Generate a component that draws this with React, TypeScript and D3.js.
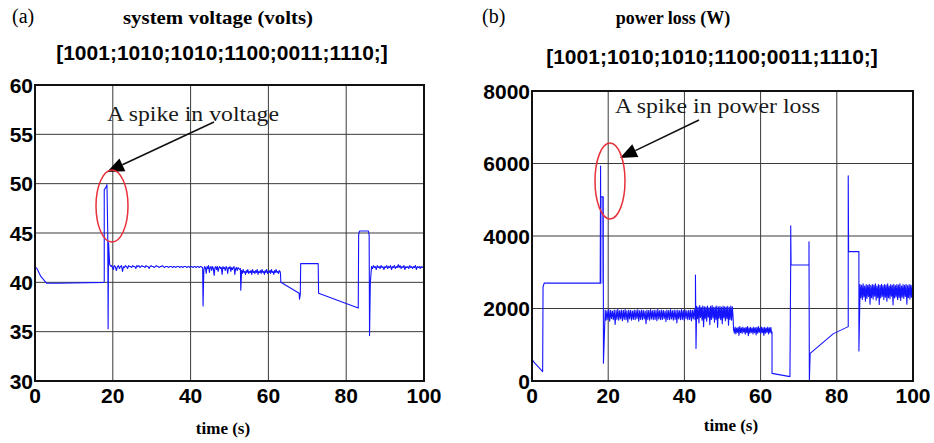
import React from "react";
import * as d3 from "d3";

type Pt = [number, number];

// shared axis stuff
const timeTicks = [0, 20, 40, 60, 80, 100];
const voltTicks = [30, 35, 40, 45, 50, 55, 60];
const lossTicks = [0, 2000, 4000, 6000, 8000];
const switchLabel = "[1001;1010;1010;1100;0011;1110;]";

// ---- panel (a): system voltage ----
const vStart: Pt[] = [
  [0, 36.8], [0, 41.6], [0.5, 41.4], [1.5, 40.6], [3, 39.9], [6, 39.9], [17.7, 40.0],
  [17.8, 40.1], [17.8, 49.4], [18.2, 49.6], [18.5, 49.9], [18.7, 45], [18.8, 35.3],
  [18.9, 44], [19.2, 41.8], [19.6, 41.6],
];
const vNoiseA = [
  41.7, 41.6, 41.3, 41.7, 41.6, 41.2, 41.6, 41.7, 41.4, 41.6,
  41.7, 41.1, 41.6, 41.5, 41.7, 41.6, 41.4, 41.7, 41.6, 41.6,
  41.5, 41.7, 41.6, 41.6, 41.4, 41.7, 41.6, 41.7, 41.5, 41.6,
  41.7, 41.6, 41.6, 41.5, 41.7, 41.6, 41.6, 41.4, 41.6, 41.7,
  41.6, 41.6, 41.5, 41.6, 41.7, 41.6, 41.6, 41.5, 41.6, 41.6,
  41.7, 41.6, 41.5, 41.6, 41.6, 41.6, 41.5, 41.6, 41.6, 41.6,
  41.5, 41.6, 41.6, 41.5, 41.6, 41.6, 41.6, 41.5, 41.6, 41.6,
  41.5, 41.6, 41.6, 41.6, 41.5, 41.6, 41.6, 41.5, 41.6, 41.6,
  41.5, 41.6, 41.6, 41.5, 41.6, 41.6, 41.5, 41.6, 41.6, 41.5,
];
const vDip43: Pt[] = [[43.1, 41.5], [43.2, 37.6], [43.4, 41.2], [43.6, 41.6]];
const vNoiseB = [
  41.6, 41.5, 40.9, 41.6, 41.4, 41.7, 41.0, 41.5, 41.6, 41.2,
  41.6, 41.4, 40.7, 41.5, 41.6, 41.3, 41.6, 41.1, 41.5, 41.6,
  41.4, 41.5, 40.8, 41.6, 41.4, 41.5, 41.2, 41.6, 41.5, 40.9,
  41.5, 41.4, 41.6, 41.1, 41.5, 41.3, 41.5, 41.6, 40.8, 41.4,
  41.5, 41.2, 41.5, 41.4, 41.3, 41.4,
];
const vDip53: Pt[] = [[52.9, 39.2], [53.1, 41.0]];
const vNoiseC = [
  41.2, 40.9, 41.3, 41.0, 41.1, 40.8, 41.2, 41.0, 41.3, 40.9,
  41.1, 41.0, 41.2, 40.8, 41.3, 41.0, 41.1, 40.9, 41.2, 41.0,
  41.3, 40.8, 41.1, 41.0, 41.2, 40.9, 41.3, 41.0, 41.1, 40.8,
  41.2, 41.0, 41.3, 40.9, 41.1, 41.0, 41.2, 40.9, 41.3, 41.0,
  41.1, 40.8, 41.2, 41.0, 41.3, 41.0, 41.1, 40.9, 41.2, 41.1,
];
const vMid: Pt[] = [
  [63.1, 40.9], [63.2, 40.0], [67.9, 38.9], [68, 38.3], [68.2, 38.8], [68.3, 41.9], [72.8, 41.9],
  [72.9, 38.9], [83.1, 37.4], [83.2, 44.8], [83.4, 45.2], [85.7, 45.2], [85.9, 44.8], [86, 34.6],
  [86.2, 40], [86.5, 41.5],
];
const vNoiseD = [
  41.6, 41.4, 41.7, 41.5, 41.6, 41.3, 41.7, 41.5, 41.6, 41.4,
  41.7, 41.5, 41.6, 41.3, 41.6, 41.5, 41.7, 41.4, 41.6, 41.5,
  41.7, 41.3, 41.6, 41.5, 41.7, 41.4, 41.6, 41.5, 41.8, 41.5,
  41.7, 41.4, 41.6, 41.5, 41.7, 41.3, 41.6, 41.5, 41.6, 41.4,
  41.7, 41.5, 41.6, 41.4, 41.6, 41.5, 41.7, 41.3, 41.6, 41.5,
  41.6, 41.4, 41.6, 41.5, 41.6, 41.5,
];

// ---- panel (b): power loss ----
const pStart: Pt[] = [
  [0, 0], [0, 600], [0.5, 520], [2.8, 260], [2.9, 2600], [3.2, 2700], [17.9, 2700], [18, 5930],
  [18.05, 2700], [18.1, 5080], [18.6, 5080], [18.65, 2700], [18.7, 5080], [18.75, 490], [19.2, 1900],
];
const pNoiseE = [
  1960, 1680, 1940, 1700, 1970, 1650, 1950, 1720, 1930, 1690,
  1960, 1560, 1950, 1700, 1980, 1680, 1940, 1710, 1960, 1660,
  1950, 1700, 1970, 1690, 1940, 1620, 1960, 1710, 1950, 1680,
  1930, 1700, 1960, 1690, 1950, 1720, 1970, 1650, 1940, 1700,
  1960, 1690, 1950, 1710, 1930, 1580, 1960, 1700, 1950, 1680,
  1970, 1710, 1940, 1690, 1960, 1700, 1950, 1660, 1980, 1710,
  1940, 1690, 1960, 1700, 1950, 1720, 1930, 1640, 1960, 1700,
  1950, 1690, 1970, 1710, 1940, 1680, 1960, 1700, 1950, 1600,
  1960, 1710, 1940, 1690, 1970, 1700, 1950, 1680, 1960, 1720,
  1940, 1690, 1950, 1700, 1960, 1660, 1950, 1710, 1970, 1700,
];
const pSpike43: Pt[] = [[42.9, 1800], [42.9, 2920], [43.05, 900], [43.2, 1900]];
const pNoiseF = [
  2060, 1720, 2040, 1600, 2080, 1750, 2030, 1680, 2070, 1500,
  2050, 1720, 2040, 1650, 2070, 1760, 2020, 1550, 2060, 1700,
  2080, 1740, 2030, 1620, 2050, 1700, 2070, 1480, 2040, 1730,
  2060, 1690, 2030, 1580, 2070, 1740, 2050, 1660, 2040, 1720,
  2060, 1540, 2030, 1700, 2070, 1680, 2050, 1720,
];
const pNoiseG = [
  1470, 1320, 1490, 1300, 1460, 1340, 1480, 1260, 1500, 1330,
  1470, 1310, 1490, 1350, 1460, 1290, 1480, 1330, 1500, 1250,
  1470, 1320, 1480, 1340, 1460, 1300, 1490, 1330, 1470, 1270,
  1480, 1320, 1500, 1340, 1460, 1310, 1490, 1330, 1470, 1260,
  1480, 1320, 1460, 1340, 1490, 1300, 1470, 1330, 1480, 1310,
];
const pMid: Pt[] = [
  [63, 1350], [63, 210], [67.7, 120], [67.9, 3300], [67.9, 4280], [68, 3200], [72.7, 3200],
  [72.7, 3840], [72.8, 0], [73, 760], [78.5, 1250], [79, 1300], [83, 1500], [83, 5660],
  [83.1, 3570], [85.8, 3570], [85.8, 830], [86.1, 2500],
];
const pNoiseH = [
  2660, 2300, 2640, 2250, 2680, 2320, 2620, 2200, 2660, 2280,
  2640, 2330, 2670, 2120, 2630, 2300, 2660, 2260, 2650, 2340,
  2680, 2230, 2620, 2300, 2660, 2110, 2640, 2290, 2670, 2330,
  2630, 2250, 2660, 2310, 2650, 2200, 2680, 2300, 2620, 2270,
  2660, 2340, 2640, 2100, 2670, 2290, 2630, 2320, 2660, 2250,
  2650, 2300, 2680, 2220, 2620, 2310, 2660, 2280, 2640, 2330,
  2670, 2120, 2630, 2300, 2660, 2260, 2650, 2310, 2640, 2290,
];

// spreads a run of read-off samples over [t0, t1]
const spread = (vals: number[], t0: number, t1: number): Pt[] =>
  vals.map((v, i) => [t0 + (i * (t1 - t0)) / (vals.length - 1), v] as Pt);

const voltage: Pt[] = [
  ...vStart, ...spread(vNoiseA, 19.6, 43), ...vDip43, ...spread(vNoiseB, 43.6, 52.8),
  ...vDip53, ...spread(vNoiseC, 53.1, 63), ...vMid, ...spread(vNoiseD, 86.5, 100),
];
const powerLoss: Pt[] = [
  ...pStart, ...spread(pNoiseE, 19.2, 42.8), ...pSpike43, ...spread(pNoiseF, 43.2, 52.8),
  [52.9, 1400], ...spread(pNoiseG, 52.9, 62.9), ...pMid, ...spread(pNoiseH, 86.1, 100),
];

const SANS = "'Liberation Sans', Arial, sans-serif";
const SERIF = "'Liberation Serif', 'Times New Roman', serif";

type PanelProps = {
  id: string;
  box: { x0: number; x1: number; y0: number; y1: number };
  yDomain: [number, number];
  yTicks: number[];
  data: Pt[];
  tag: string;
  tagX: number;
  title: string;
  titleX: number;
  titleSize: number;
  titleLen?: number;
  subY: number;
  subX: number;
  note: { text: string; x: number; y: number; len: number };
  arrow: { x1: number; y1: number; x2: number; y2: number };
  ring: { cx: number; cy: number; rx: number; ry: number };
  timeX: number;
  timeY: number;
};

const Panel = (p: PanelProps) => {
  const { box } = p;
  const x = d3.scaleLinear().domain([0, 100]).range([box.x0, box.x1]);
  const y = d3.scaleLinear().domain(p.yDomain).range([box.y1, box.y0]);
  const line = d3.line<Pt>().x((d) => x(d[0])).y((d) => y(d[1]));

  // arrow head
  const { x1, y1, x2, y2 } = p.arrow;
  const ang = Math.atan2(y2 - y1, x2 - x1);
  const hl = 17, hw = 7;
  const bx = x2 - hl * Math.cos(ang), by = y2 - hl * Math.sin(ang);
  const head = [
    [x2, y2],
    [bx + hw * Math.sin(ang), by - hw * Math.cos(ang)],
    [bx - hw * Math.sin(ang), by + hw * Math.cos(ang)],
  ].map((q) => q.join(",")).join(" ");

  return (
    <g>
      <text x={p.tagX} y={23} fontFamily={SERIF} fontSize={20}>{p.tag}</text>
      <text x={p.titleX} y={24} fontFamily={SERIF} fontSize={p.titleSize} fontWeight="bold"
        textAnchor="middle" textLength={p.titleLen}
        lengthAdjust={p.titleLen ? "spacingAndGlyphs" : undefined}>{p.title}</text>
      <text x={p.subX} y={p.subY} fontFamily={SANS} fontSize={21} fontWeight="bold"
        textAnchor="middle">{switchLabel}</text>

      <clipPath id={p.id}>
        <rect x={box.x0} y={box.y0} width={box.x1 - box.x0} height={box.y1 - box.y0} />
      </clipPath>

      {/* grid */}
      {timeTicks.map((t) => (
        <line key={"gx" + t} x1={x(t)} x2={x(t)} y1={box.y0} y2={box.y1} stroke="#3a3a3a" strokeWidth={1} />
      ))}
      {p.yTicks.map((v) => (
        <line key={"gy" + v} x1={box.x0} x2={box.x1} y1={y(v)} y2={y(v)} stroke="#3a3a3a" strokeWidth={1} />
      ))}

      <path d={line(p.data) || ""} fill="none" stroke="#1414ff" strokeWidth={1.1}
        strokeLinejoin="round" clipPath={`url(#${p.id})`} />

      <rect x={box.x0} y={box.y0} width={box.x1 - box.x0} height={box.y1 - box.y0}
        fill="none" stroke="#111" strokeWidth={2} />

      {/* tick labels */}
      {p.yTicks.map((v) => (
        <text key={"ly" + v} x={box.x0 - 2} y={y(v)} dy="0.36em" textAnchor="end"
          fontFamily={SANS} fontSize={21} fontWeight="bold">{v}</text>
      ))}
      {timeTicks.map((t) => (
        <text key={"lx" + t} x={x(t)} y={403} textAnchor="middle"
          fontFamily={SANS} fontSize={21} fontWeight="bold">{t}</text>
      ))}
      <text x={p.timeX} y={p.timeY} textAnchor="middle" fontFamily={SERIF} fontSize={17}
        fontWeight="bold">time (s)</text>

      {/* annotation */}
      <text x={p.note.x} y={p.note.y} fontFamily={SERIF} fontSize={21} fill="#1a1a1a"
        textLength={p.note.len} lengthAdjust="spacingAndGlyphs">{p.note.text}</text>
      <line x1={x1} y1={y1} x2={bx} y2={by} stroke="#111" strokeWidth={1.6} />
      <polygon points={head} fill="#000" />
      <ellipse cx={p.ring.cx} cy={p.ring.cy} rx={p.ring.rx} ry={p.ring.ry}
        fill="none" stroke="#e8303a" strokeWidth={1.5} />
    </g>
  );
};

export default function App() {
  return (
    <svg width={934} height={443} style={{ position: "absolute", left: 0, top: 0, background: "#fff" }}>
      <Panel
        id="clipA"
        box={{ x0: 35, x1: 424, y0: 85, y1: 381 }}
        yDomain={[30, 60]}
        yTicks={voltTicks}
        data={voltage}
        tag="(a)"
        tagX={12}
        title="system voltage (volts)"
        titleX={218}
        titleSize={19}
        titleLen={190}
        subX={222}
        subY={60}
        note={{ text: "A spike in voltage", x: 107, y: 121, len: 172 }}
        arrow={{ x1: 214, y1: 122, x2: 107, y2: 172 }}
        ring={{ cx: 112, cy: 206, rx: 16, ry: 36 }}
        timeX={223}
        timeY={434}
      />
      <Panel
        id="clipB"
        box={{ x0: 532, x1: 913, y0: 91, y1: 381 }}
        yDomain={[0, 8000]}
        yTicks={lossTicks}
        data={powerLoss}
        tag="(b)"
        tagX={482}
        title="power loss (W)"
        titleX={673}
        titleSize={18}
        subX={712}
        subY={64}
        note={{ text: "A spike in power loss", x: 615, y: 113, len: 205 }}
        arrow={{ x1: 699, y1: 120, x2: 620, y2: 158 }}
        ring={{ cx: 610, cy: 181, rx: 15, ry: 38 }}
        timeX={731}
        timeY={431}
      />
    </svg>
  );
}
